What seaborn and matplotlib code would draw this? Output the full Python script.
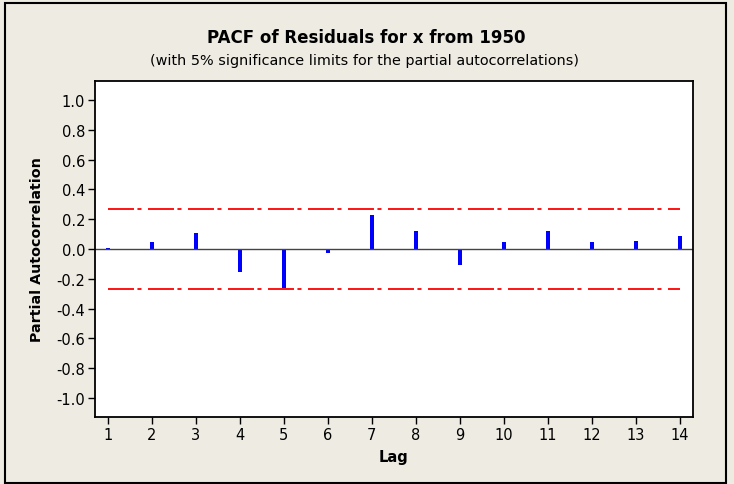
import numpy as np
import pandas as pd
import matplotlib
matplotlib.use("Agg")
import matplotlib.pyplot as plt
from matplotlib.patches import Rectangle
import seaborn as sns

# ---- data ----
lags = [1, 2, 3, 4, 5, 6, 7, 8, 9, 10, 11, 12, 13, 14]
pacf = [0.005, 0.045, 0.105, -0.157, -0.26, -0.03, 0.23,
        0.123, -0.107, 0.045, 0.121, 0.045, 0.054, 0.087]
sig_limit = 0.27
yticks = [-1.0, -0.8, -0.6, -0.4, -0.2, 0.0, 0.2, 0.4, 0.6, 0.8, 1.0]
title = "PACF of Residuals for x from 1950"
subtitle = "(with 5% significance limits for the partial autocorrelations)"
xlabel = "Lag"
ylabel = "Partial Autocorrelation"

sns.set_style("ticks")
plt.rcParams["font.family"] = ["DejaVu Sans"]
plt.rcParams["lines.scale_dashes"] = False
plt.rcParams["text.color"] = "black"

BG = "#EEEBE2"
W, H = 734, 485
fig = plt.figure(figsize=(W / 100, H / 100), dpi=100, facecolor=BG)

# axes box in pixels: left 95, top 82, right 693, bottom 418
ax = fig.add_axes([95 / W, 1 - 418 / H, (693 - 95) / W, (418 - 82) / H])
ax.set_facecolor("white")

df = pd.DataFrame({"Lag": lags, "PACF": pacf})
sns.barplot(data=df, x="Lag", y="PACF", native_scale=True, width=0.095,
            color="#0000FF", saturation=1, edgecolor="none", ax=ax)

lim_df = pd.DataFrame({"Lag": [lags[0], lags[-1]], "up": [sig_limit] * 2,
                       "lo": [-sig_limit] * 2})
dash = (18.7, 2.5, 2.9, 4.7)
for col in ["up", "lo"]:
    sns.lineplot(data=lim_df, x="Lag", y=col, color="#FF0000", lw=1.3,
                 dashes=False, ax=ax)
for ln in ax.lines:
    ln.set_dashes(dash)

ax.axhline(0, color="#444444", lw=1.0, zorder=1)

ax.set_xlim(0.71, 14.3)
ax.set_ylim(-1.128, 1.128)
ax.set_xticks(lags)
ax.set_xticklabels([str(v) for v in lags])
ax.set_yticks(yticks)
ax.set_yticklabels([f"{v:.1f}" for v in yticks])
ax.tick_params(axis="both", labelsize=10.5, color="black", width=1,
               direction="out", length=5, pad=2, labelcolor="black")
for s in ax.spines.values():
    s.set_visible(True)
    s.set_color("black")
    s.set_linewidth(1.3)

ax.set_xlabel("")
ax.set_ylabel("")
fig.text(393 / W, 1 - 458 / H, xlabel, ha="center", va="center",
         fontsize=10.5, fontweight="bold", color="black")
fig.text(37 / W, 1 - 250 / H, ylabel, ha="center", va="center",
         rotation=90, fontsize=10.3, fontweight="bold", color="black")
fig.text(366 / W, 1 - 38 / H, title, ha="center", va="center",
         fontsize=12, fontweight="bold", color="black")
fig.text(364 / W, 1 - 61 / H, subtitle, ha="center", va="center",
         fontsize=10.4, color="black")

# outer frame
fig.patches.append(Rectangle((5 / W, 1 - 484 / H), (726 - 5) / W, (484 - 4) / H,
                             transform=fig.transFigure, fill=False,
                             edgecolor="black", lw=1.5))

fig.savefig("out.png", dpi=100, facecolor=BG)
